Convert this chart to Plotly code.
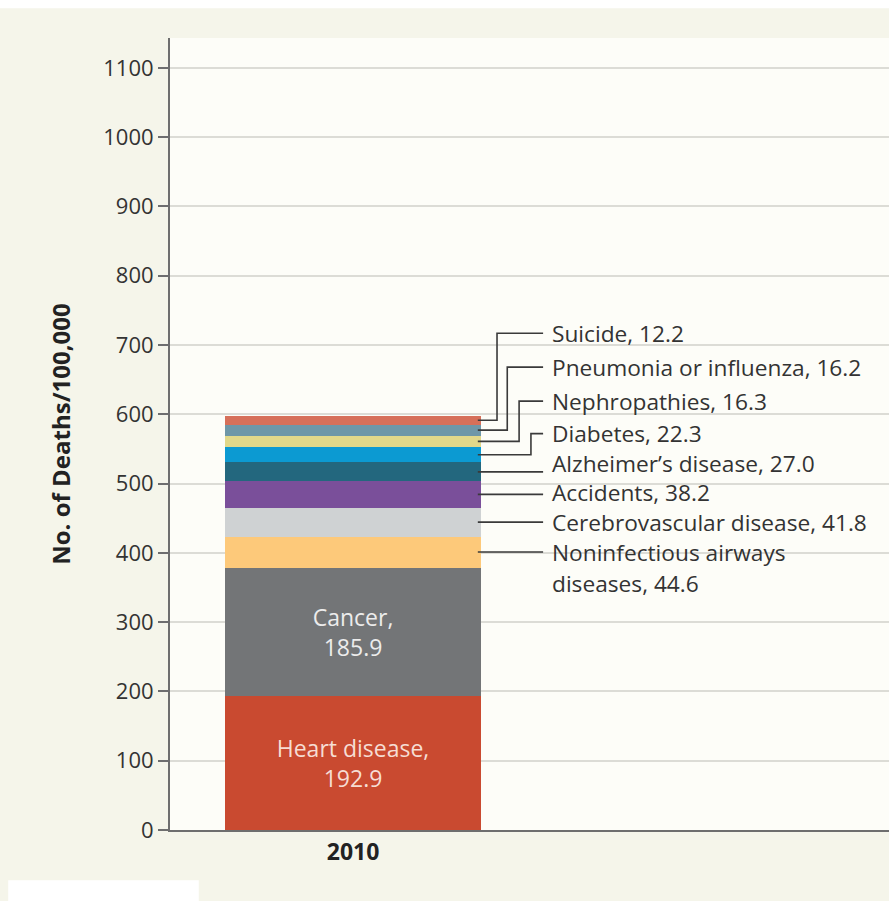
import plotly.graph_objects as go

year = ["2010"]
causes = ["Heart disease", "Cancer", "Noninfectious airways diseases",
          "Cerebrovascular disease", "Accidents", "Alzheimer\u2019s disease",
          "Diabetes", "Nephropathies", "Pneumonia or influenza", "Suicide"]
values = [192.9, 185.9, 44.6, 41.8, 38.2, 27.0, 22.3, 16.3, 16.2, 12.2]
colors = ["#c94a30", "#737577", "#fdc97a", "#cfd2d3", "#7a4f9a",
          "#23677e", "#0c9ad2", "#e1d88a", "#6e97a8", "#d6705a"]
inside_text_colors = {"Heart disease": "#f6ddd4", "Cancer": "#ececec"}
y_ticks = list(range(0, 1200, 100))

# layout positions for the outside labels (data units) and elbow x positions
label_y = {"Suicide": 717, "Pneumonia or influenza": 668,
           "Nephropathies": 619, "Diabetes": 572}
elbow_x = {"Suicide": 0.45, "Pneumonia or influenza": 0.482,
           "Nephropathies": 0.519, "Diabetes": 0.556}
text_shift = {"Alzheimer\u2019s disease": 8.5, "Accidents": 1.5, "Cerebrovascular disease": 0}

FONT = "Open Sans"
LBL = 22.7
fig = go.Figure()
cum = 0
mids = []
for name, v, c in zip(causes, values, colors):
    inside = name in inside_text_colors
    fig.add_trace(go.Bar(
        x=[0], y=[v], width=0.8, marker=dict(color=c, line=dict(width=0)),
        text=[f"{name},<br>{v}"] if inside else None,
        textposition="inside" if inside else "none",
        insidetextanchor="middle",
        textfont=dict(color=inside_text_colors.get(name, "white"), size=23, family=FONT),
        hoverinfo="skip", showlegend=False))
    mids.append(cum + v / 2)
    cum += v

shapes = []
annotations = []
bar_edge = 0.39
line_end = 0.594
text_x = 0.614
for name, v, m in zip(causes, values, mids):
    if name in inside_text_colors:
        continue
    ln = dict(color="#3a3a3a", width=1.6)
    if name in label_y:
        ly = label_y[name]
        ex = elbow_x[name]
        shapes.append(dict(type="path", xref="x", yref="y",
                           path=f"M {bar_edge},{m} L {ex},{m} L {ex},{ly} L {line_end},{ly}",
                           line=ln))
    else:
        ly = m
        shapes.append(dict(type="line", xref="x", yref="y", x0=bar_edge, x1=line_end,
                           y0=m, y1=m, line=ln))
    f = dict(size=LBL, color="#333", family=FONT)
    if name == "Noninfectious airways diseases":
        annotations.append(dict(x=text_x, y=ly, xref="x", yref="y", xanchor="left",
                                yanchor="middle", showarrow=False, align="left",
                                text="Noninfectious airways", font=f))
        annotations.append(dict(x=text_x, y=ly, xref="x", yref="y", xanchor="left",
                                yanchor="middle", yshift=-31, showarrow=False, align="left",
                                text=f"diseases, {v}", font=f))
    else:
        annotations.append(dict(x=text_x, y=ly, xref="x", yref="y", xanchor="left",
                                yanchor="middle", yshift=text_shift.get(name, 0),
                                showarrow=False, align="left",
                                text=f"{name}, {v:.1f}", font=f))

# white margins of the scanned figure
shapes.append(dict(type="rect", xref="paper", yref="paper", x0=-0.3, x1=1.01,
                   y0=1.0375, y1=1.06, fillcolor="white", line=dict(width=0), layer="below"))
shapes.append(dict(type="rect", xref="paper", yref="paper", x0=-0.225, x1=0.04,
                   y0=-0.12, y1=-0.0633, fillcolor="white", line=dict(width=0), layer="below"))

fig.update_layout(
    width=889, height=901, barmode="stack",
    margin=dict(l=170, r=0, t=38, b=71),
    paper_bgcolor="#f5f5ea", plot_bgcolor="#fdfdf8",
    shapes=shapes, annotations=annotations,
    xaxis=dict(range=[-0.572, 1.675], tickvals=[0], ticktext=["<b>2010</b>"],
               showgrid=False, zeroline=False, showline=True, linecolor="#6e6e6e",
               linewidth=2, ticks="", tickfont=dict(size=23, color="#222", family=FONT)),
    yaxis=dict(range=[0, 1143], tickvals=y_ticks, showgrid=True, gridcolor="#dcdcd6",
               gridwidth=1.5, zeroline=False, showline=True, linecolor="#6e6e6e", linewidth=2,
               ticks="outside", ticklen=10, tickcolor="#6e6e6e", tickwidth=1.5,
               tickfont=dict(size=22, color="#333", family=FONT),
               title=dict(text="<b>No. of Deaths/100,000</b>", standoff=26,
                          font=dict(size=24, color="#222", family=FONT))),
)
fig.write_html("out.html")
